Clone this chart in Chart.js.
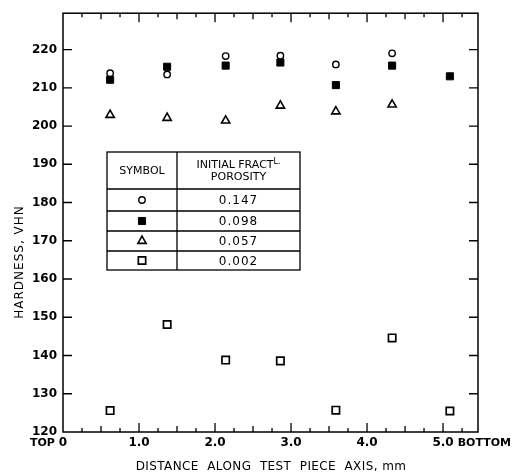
<!DOCTYPE html>
<html>
<head>
<meta charset="utf-8">
<script src="https://cdn.jsdelivr.net/npm/chart.js@4/dist/chart.umd.min.js"></script>
<style>
html,body{margin:0;padding:0;background:#fff;}
#wrap{width:512px;height:475px;}
</style>
</head>
<body>
<div id="wrap"><canvas id="c" width="512" height="475"></canvas></div>
<script>
// ---- data ----
const xPositions = [0.62, 1.37, 2.14, 2.86, 3.59, 4.33, 5.09];
const porosity147 = [213.8, 213.5, 218.3, 218.4, 216.1, 219.0, null];
const porosity098 = [212.1, 215.5, 215.8, 216.6, 210.7, 215.8, 213.0];
const porosity057 = [202.9, 202.1, 201.4, 205.3, 203.8, 205.6, null];
const porosity002 = [125.6, 148.1, 138.8, 138.6, 125.7, 144.6, 125.5];
const seriesLabels = ['0.147', '0.098', '0.057', '0.002'];
const yTickValues = [120, 130, 140, 150, 160, 170, 180, 190, 200, 210, 220];
const xMajorTicks = [0, 1, 2, 3, 4, 5];
const xTickLabels = ['0', '1.0', '2.0', '3.0', '4.0', '5.0'];
const xEndWords = ['TOP', 'BOTTOM'];
const xTitle = 'DISTANCE  ALONG  TEST  PIECE  AXIS, mm';
const yTitle = 'HARDNESS, VHN';
const tableHeader = ['SYMBOL', 'INITIAL FRACT', 'L.', 'POROSITY'];

const FONT = '"DejaVu Sans", sans-serif';
const mk = (arr) => xPositions.map((x, i) => ({x: x, y: arr[i]})).filter(p => p.y !== null);

const styles = [
  {pointStyle: 'circle', radius: 3.2, fill: '#fff', bw: 1.4},
  {pointStyle: 'rect', radius: 5.0, fill: '#000', bw: 1},
  {pointStyle: 'triangle', radius: 4.8, fill: '#fff', bw: 1.6},
  {pointStyle: 'rect', radius: 5.2, fill: '#fff', bw: 1.7}
];
const dataArrays = [porosity147, porosity098, porosity057, porosity002];

const datasets = dataArrays.map((arr, i) => ({
  label: seriesLabels[i],
  data: mk(arr),
  pointStyle: styles[i].pointStyle,
  pointRadius: styles[i].radius,
  pointHoverRadius: styles[i].radius,
  pointBackgroundColor: styles[i].fill,
  pointBorderColor: '#000',
  pointBorderWidth: styles[i].bw,
  showLine: false
}));

const decor = {
  id: 'decor',
  afterDraw(chart) {
    const ctx = chart.ctx;
    const a = chart.chartArea;
    const xs = chart.scales.x, ys = chart.scales.y;
    ctx.save();
    ctx.strokeStyle = '#000';
    ctx.fillStyle = '#000';
    // frame
    ctx.lineWidth = 1.5;
    ctx.strokeRect(a.left, a.top, a.right - a.left, a.bottom - a.top);
    // x ticks (inward, top and bottom)
    ctx.lineWidth = 1.3;
    for (let v = 0.25; v <= 5.45; v += 0.25) {
      const px = xs.getPixelForValue(v);
      const isInt = Math.abs(v - Math.round(v)) < 1e-6;
      const isHalf = Math.abs(v * 2 - Math.round(v * 2)) < 1e-6;
      const len = isInt ? 9 : (isHalf ? 6 : 4);
      ctx.beginPath();
      ctx.moveTo(px, a.bottom); ctx.lineTo(px, a.bottom - len);
      ctx.moveTo(px, a.top); ctx.lineTo(px, a.top + len);
      ctx.stroke();
    }
    // y ticks (inward, left and right)
    yTickValues.forEach(v => {
      if (v === 120) return;
      const py = ys.getPixelForValue(v);
      ctx.beginPath();
      ctx.moveTo(a.left, py); ctx.lineTo(a.left + 9, py);
      ctx.moveTo(a.right, py); ctx.lineTo(a.right - 9, py);
      ctx.stroke();
    });
    // x tick labels
    ctx.textBaseline = 'middle';
    const LY = 443;
    xMajorTicks.forEach((v, i) => {
      const px = xs.getPixelForValue(v);
      const lab = xTickLabels[i];
      ctx.font = 'bold 12px ' + FONT;
      ctx.textAlign = 'center';
      ctx.fillText(lab, px, LY);
      const w = ctx.measureText(lab).width;
      ctx.font = 'bold 11px ' + FONT;
      if (i === 0) {
        ctx.textAlign = 'right';
        ctx.fillText(xEndWords[0], px - w / 2 - 4, LY);
      } else if (i === xMajorTicks.length - 1) {
        ctx.textAlign = 'left';
        ctx.fillText(xEndWords[1], px + w / 2 + 4, LY);
      }
    });
    // axis titles
    ctx.font = '12px ' + FONT;
    ctx.letterSpacing = '0.4px';
    ctx.textAlign = 'center';
    ctx.fillText(xTitle, 271, 467);
    ctx.save();
    ctx.translate(20, 262);
    ctx.rotate(-Math.PI / 2);
    ctx.letterSpacing = '1px';
    ctx.fillText(yTitle, 0, 0);
    ctx.restore();
    ctx.letterSpacing = '0px';
    // legend table
    const L = a.left + 44, R = a.left + 237, C = a.left + 114;
    const T = 152;
    const rows = [189, 211, 231, 251, 270];
    ctx.lineWidth = 1.3;
    ctx.strokeRect(L, T, R - L, rows[4] - T);
    ctx.beginPath();
    ctx.moveTo(C, T); ctx.lineTo(C, rows[4]);
    for (let i = 0; i < 4; i++) { ctx.moveTo(L, rows[i]); ctx.lineTo(R, rows[i]); }
    ctx.stroke();
    ctx.font = '11px ' + FONT;
    ctx.textAlign = 'center';
    ctx.fillText(tableHeader[0], (L + C) / 2, (T + rows[0]) / 2 + 1);
    const cx2 = (C + R) / 2;
    const w1 = ctx.measureText(tableHeader[1]).width;
    ctx.font = '8px ' + FONT;
    const w2 = ctx.measureText(tableHeader[2]).width;
    const start = cx2 - (w1 + w2) / 2;
    ctx.font = '11px ' + FONT;
    ctx.textAlign = 'left';
    ctx.fillText(tableHeader[1], start, 165);
    ctx.font = '8px ' + FONT;
    ctx.fillText(tableHeader[2], start + w1, 162);
    ctx.font = '11px ' + FONT;
    ctx.textAlign = 'center';
    ctx.fillText(tableHeader[3], cx2, 177);
    ctx.font = '12px ' + FONT;
    ctx.letterSpacing = '1px';
    for (let i = 0; i < 4; i++) {
      const cy = (rows[i] + rows[i + 1]) / 2 + 1;
      ctx.fillText(seriesLabels[i], cx2, cy);
      const st = styles[i];
      ctx.save();
      ctx.lineWidth = st.bw;
      ctx.fillStyle = st.fill;
      Chart.helpers.drawPoint(ctx, {pointStyle: st.pointStyle, radius: st.radius, borderWidth: st.bw}, (L + C) / 2, cy - 1);
      ctx.restore();
    }
    ctx.letterSpacing = '0px';
    ctx.restore();
  }
};

new Chart(document.getElementById('c'), {
  type: 'scatter',
  data: {datasets: datasets},
  options: {
    responsive: false,
    animation: false,
    devicePixelRatio: 1,
    layout: {padding: {left: 0, top: 11, right: 34, bottom: 0}},
    plugins: {legend: {display: false}, tooltip: {enabled: false}},
    scales: {
      x: {
        type: 'linear', min: 0, max: 5.46,
        grid: {display: false, drawTicks: false},
        border: {display: false},
        ticks: {display: false},
        afterFit: s => { s.height = 43; }
      },
      y: {
        type: 'linear', min: 120, max: 229.5,
        grid: {display: false, drawTicks: false},
        border: {display: false},
        afterBuildTicks: s => { s.ticks = yTickValues.map(v => ({value: v})); },
        ticks: {color: '#000', font: {family: FONT, size: 12, weight: 'bold'}, padding: 6},
        afterFit: s => { s.width = 63; }
      }
    }
  },
  plugins: [decor]
});
</script>
</body>
</html>
